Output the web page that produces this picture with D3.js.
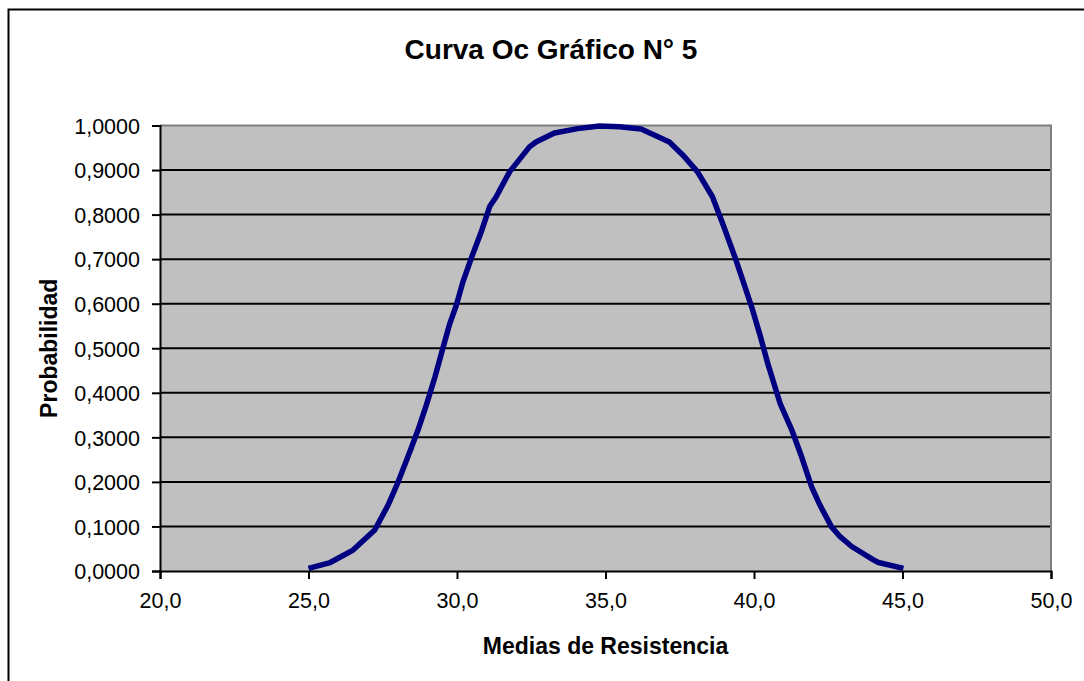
<!DOCTYPE html>
<html><head><meta charset="utf-8">
<script src="https://cdn.jsdelivr.net/npm/d3@7"></script>
<style>
html,body{margin:0;padding:0;background:#fff;}
svg{display:block;}
text{font-family:"Liberation Sans",Arial,sans-serif;fill:#000;}
</style></head>
<body>
<svg id="c" width="1084" height="681"></svg>
<script>
const title = "Curva Oc Gráfico N° 5";
const xTitle = "Medias de Resistencia";
const yTitle = "Probabilidad";
const xTicks = [20, 25, 30, 35, 40, 45, 50];
const yTicks = [0, 0.1, 0.2, 0.3, 0.4, 0.5, 0.6, 0.7, 0.8, 0.9, 1.0];
const mediaValues = [25.0, 25.73, 26.5, 27.23, 27.68, 28.0, 28.35, 28.69, 28.97, 29.26, 29.54, 29.76, 29.98, 30.2, 30.48, 30.82, 31.1, 31.32, 31.77, 32.44, 32.66, 33.28, 34.06, 34.8, 35.47, 36.2, 37.15, 37.6, 38.1, 38.6, 38.96, 39.35, 39.64, 39.92, 40.2, 40.48, 40.88, 41.27, 41.6, 41.94, 42.22, 42.61, 42.9, 43.29, 44.02, 44.19, 45.03];
const probValues = [0.006, 0.019, 0.047, 0.092, 0.148, 0.197, 0.257, 0.317, 0.373, 0.436, 0.504, 0.556, 0.597, 0.649, 0.702, 0.762, 0.818, 0.840, 0.896, 0.952, 0.963, 0.983, 0.993, 0.999, 0.997, 0.992, 0.963, 0.934, 0.896, 0.840, 0.777, 0.706, 0.649, 0.593, 0.530, 0.462, 0.376, 0.317, 0.257, 0.189, 0.148, 0.099, 0.077, 0.055, 0.025, 0.019, 0.006];

const svg = d3.select("#c");
const L = 160, R = 1051, T = 125.5, B = 571;
const x = d3.scaleLinear().domain([20, 50]).range([L, R]);
const y = d3.scaleLinear().domain([0, 1]).range([B, T]);

// outer frame
svg.append("rect").attr("x", 8.5).attr("y", 9.5).attr("width", 1200).attr("height", 800)
  .attr("fill", "#fff").attr("stroke", "#000").attr("stroke-width", 2);

// plot area
svg.append("rect").attr("x", L).attr("y", T).attr("width", R - L).attr("height", B - T)
  .attr("fill", "#c0c0c0");

// gridlines
svg.append("g").selectAll("line").data(yTicks.filter(d => d > 0 && d < 1)).join("line")
  .attr("x1", L).attr("x2", R).attr("y1", d => y(d)).attr("y2", d => y(d))
  .attr("stroke", "#000").attr("stroke-width", 2);

// top and right border (gray)
svg.append("path").attr("d", `M${L},${T}H${R}V${B}`).attr("fill", "none")
  .attr("stroke", "#808080").attr("stroke-width", 2);

// axes
const fmtY = d => d3.format(".4f")(d).replace(".", ",");
const fmtX = d => d3.format(".1f")(d).replace(".", ",");
const yAxis = d3.axisLeft(y).tickValues(yTicks).tickFormat(fmtY).tickSize(8).tickPadding(12);
const xAxis = d3.axisBottom(x).tickValues(xTicks).tickFormat(fmtX).tickSize(8).tickPadding(14);

const gy = svg.append("g").attr("transform", `translate(${L},0)`).call(yAxis);
const gx = svg.append("g").attr("transform", `translate(0,${B})`).call(xAxis);
[gy, gx].forEach(g => {
  g.select(".domain").attr("stroke", "#000").attr("stroke-width", 2);
  g.selectAll(".tick line").attr("stroke", "#000").attr("stroke-width", 2);
  g.selectAll(".tick text").attr("font-family", "'Liberation Sans',Arial,sans-serif")
    .attr("font-size", 21.5).attr("fill", "#000");
});
gy.selectAll(".tick text").attr("dy", "0.36em");

// curve
const pts = mediaValues.map((m, i) => [m, probValues[i]]);
svg.append("path").datum(pts)
  .attr("d", d3.line().x(d => x(d[0])).y(d => y(d[1])))
  .attr("fill", "none").attr("stroke", "#000080").attr("stroke-width", 5.5)
  .attr("stroke-linejoin", "round").attr("stroke-linecap", "butt");

// titles
svg.append("text").attr("x", 551).attr("y", 59).attr("text-anchor", "middle")
  .attr("font-size", 28).attr("font-weight", "bold").text(title);
svg.append("text").attr("x", (L + R) / 2).attr("y", 654).attr("text-anchor", "middle")
  .attr("font-size", 23).attr("font-weight", "bold").text(xTitle);
svg.append("text").attr("transform", `translate(57,${(T + B) / 2}) rotate(-90)`)
  .attr("text-anchor", "middle").attr("font-size", 23).attr("font-weight", "bold").text(yTitle);
</script>
</body></html>
